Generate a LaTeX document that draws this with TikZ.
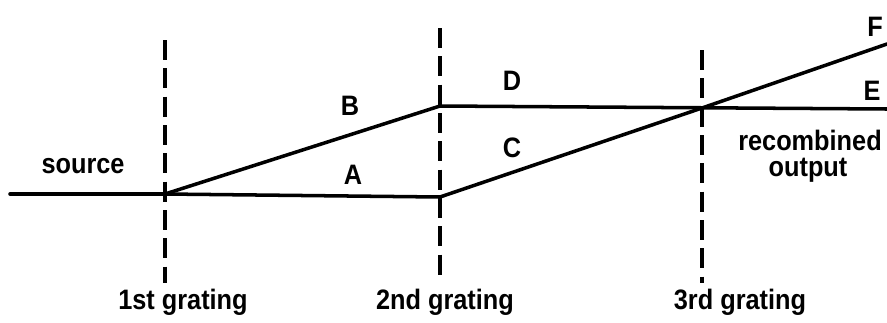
\documentclass[tikz,border=0pt]{standalone}
\usepackage{fontspec}
\setmainfont[FakeStretch=0.9]{Liberation Sans}
\begin{document}
\begin{tikzpicture}[x=0.03cm,y=-0.03cm,
  beam/.style={line width=3pt,line cap=round,line join=round},
  grating/.style={line width=2.8pt,dash pattern=on 0.6cm off 0.25cm},
  lbl/.style={font=\fontsize{24}{26}\selectfont\bfseries,inner sep=0pt,anchor=base}]
\useasboundingbox (0,0) rectangle (887,322);
% coordinates
\coordinate (s) at (10,194);
\coordinate (g1) at (165,194);
\coordinate (g2a) at (440,197);
\coordinate (g2b) at (440,106);
\coordinate (g3) at (702,108);
\coordinate (e) at (887,109);
\coordinate (f) at (887,44);
% grating lines
\coordinate (g1t) at (165,40);
\coordinate (g1b) at (165,283);
\coordinate (g2t) at (440,28);
\coordinate (g2b2) at (440,283);
\coordinate (g3t) at (702,50);
\coordinate (g3b) at (702,283);
\draw[grating] (g1t) -- (g1b);
\draw[grating] (g2t) -- (g2b2);
\draw[grating] (g3t) -- (g3b);
% beams
\draw[beam] (s) -- (g1);
\draw[beam] (g1) -- (g2a);
\draw[beam] (g1) -- (g2b);
\draw[beam] (g2b) -- (e);
\draw[beam] (g2a) -- (g3);
\draw[beam] (g3) -- (f);
% labels
\node[lbl] (lsrc) at (83,173) {source};
\node[lbl] (lB) at (350,115) {B};
\node[lbl] (lA) at (353,184) {A};
\node[lbl] (lD) at (512,90) {D};
\node[lbl] (lC) at (512,157) {C};
\node[lbl] (lE) at (872,100) {E};
\node[lbl] (lF) at (875,36) {F};
\node[lbl] (lrec) at (810,150) {recombined};
\node[lbl] (lout) at (808,176) {output};
\node[lbl] (l1) at (183,309) {1st grating};
\node[lbl] (l2) at (445,309) {2nd grating};
\node[lbl] (l3) at (740,309) {3rd grating};
\end{tikzpicture}
\end{document}
